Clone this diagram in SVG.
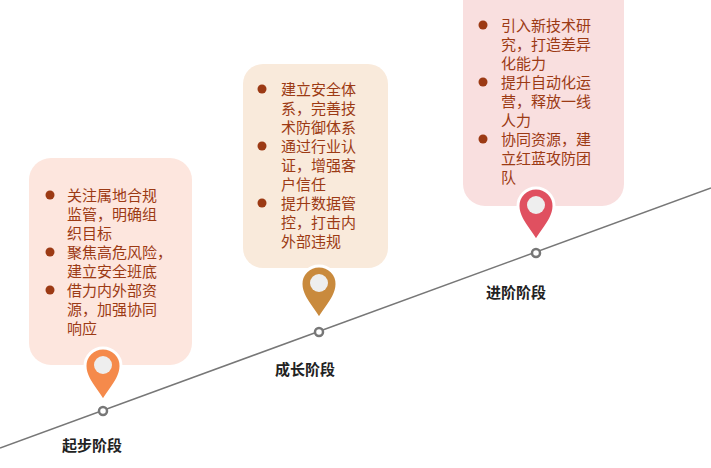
<svg xmlns="http://www.w3.org/2000/svg" width="711" height="468" viewBox="0 0 711 468">
<style>
text{font-family:"Noto Sans CJK SC","Liberation Sans",sans-serif;font-size:15px;fill:#9c3a14}
.lbl{fill:#222;font-weight:bold}
.b{fill:#9c3a14}
.pin{stroke:#fff;stroke-width:3}
</style>
<defs>
<path id="pin" d="M0,37 C-6,26 -18,15 -18,2 A18,18 0 1 1 18,2 C18,15 6,26 0,37Z"/>
</defs>
<g id="connectors"><line x1="0" y1="448" x2="711" y2="188" stroke="#777" stroke-width="1.5"/></g>
<g id="stage1">
<rect x="29" y="158" width="163" height="207" rx="22" fill="#fde6de"/>
<circle class="b" cx="50" cy="195" r="4.5"/><circle class="b" cx="50" cy="252" r="4.5"/><circle class="b" cx="50" cy="290" r="4.5"/>
<text x="67" y="201">关注属地合规</text><text x="67" y="220">监管，明确组</text><text x="67" y="239">织目标</text>
<text x="67" y="258">聚焦高危风险，</text><text x="67" y="277">建立安全班底</text>
<text x="67" y="296">借力内外部资</text><text x="67" y="315">源，加强协同</text><text x="67" y="334">响应</text>
<use href="#pin" x="103" y="364" fill="#f58a4b" class="pin"/><circle cx="103" cy="365" r="9" fill="#eee"/>
<circle cx="103" cy="411" r="4" fill="#fff" stroke="#777" stroke-width="2.5"/>
<text class="lbl" x="62" y="451">起步阶段</text>
</g>
<g id="stage2">
<rect x="243" y="64" width="145" height="204" rx="20" fill="#f9eadb"/>
<circle class="b" cx="262" cy="89" r="4.5"/><circle class="b" cx="262" cy="146" r="4.5"/><circle class="b" cx="262" cy="203" r="4.5"/>
<text x="281" y="95">建立安全体</text><text x="281" y="114">系，完善技</text><text x="281" y="133">术防御体系</text>
<text x="281" y="152">通过行业认</text><text x="281" y="171">证，增强客</text><text x="281" y="190">户信任</text>
<text x="281" y="209">提升数据管</text><text x="281" y="228">控，打击内</text><text x="281" y="247">外部违规</text>
<use href="#pin" x="319" y="282" fill="#c98a3d" class="pin"/><circle cx="319" cy="283" r="9" fill="#eee"/>
<circle cx="319" cy="332" r="4" fill="#fff" stroke="#777" stroke-width="2.5"/>
<text class="lbl" x="275" y="375">成长阶段</text>
</g>
<g id="stage3">
<rect x="463" y="-20" width="161" height="226" rx="22" fill="#f9dfdf"/>
<circle class="b" cx="483" cy="25" r="4.5"/><circle class="b" cx="483" cy="82" r="4.5"/><circle class="b" cx="483" cy="139" r="4.5"/>
<text x="501" y="31">引入新技术研</text><text x="501" y="50">究，打造差异</text><text x="501" y="69">化能力</text>
<text x="501" y="88">提升自动化运</text><text x="501" y="107">营，释放一线</text><text x="501" y="126">人力</text>
<text x="501" y="145">协同资源，建</text><text x="501" y="164">立红蓝攻防团</text><text x="501" y="183">队</text>
<use href="#pin" x="536" y="204" fill="#e05060" class="pin"/><circle cx="536" cy="205" r="9" fill="#eee"/>
<circle cx="536" cy="253" r="4" fill="#fff" stroke="#777" stroke-width="2.5"/>
<text class="lbl" x="486" y="298">进阶阶段</text>
</g>
</svg>
